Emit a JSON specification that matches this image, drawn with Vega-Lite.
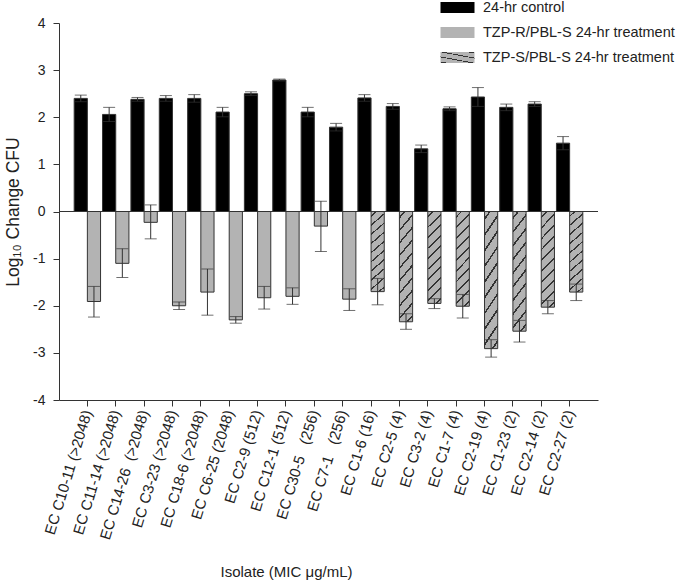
{
  "$schema": "https://vega.github.io/schema/vega-lite/v6.json",
  "width": 539,
  "height": 377,
  "autosize": {"type": "none"},
  "padding": {"left": 59, "top": 23, "right": 82, "bottom": 182},
  "background": "white",
  "config": {
    "view": {"stroke": null},
    "font": "Liberation Sans",
    "axis": {"domainColor": "#333", "tickColor": "#333", "labelColor": "#222", "titleColor": "#222", "grid": false, "titleFontWeight": "normal"},
    "legend": {"labelColor": "#222"}
  },
  "data": {
    "values": [
      {"iso": "EC C10-11 (>2048)", "side": "a", "grp": "24-hr control", "v": 2.40, "lo": 2.33, "hi": 2.47},
      {"iso": "EC C11-14 (>2048)", "side": "a", "grp": "24-hr control", "v": 2.06, "lo": 1.91, "hi": 2.21},
      {"iso": "EC C14-26\u00a0 (>2048)", "side": "a", "grp": "24-hr control", "v": 2.38, "lo": 2.34, "hi": 2.42},
      {"iso": "EC C3-23 (>2048)", "side": "a", "grp": "24-hr control", "v": 2.40, "lo": 2.34, "hi": 2.46},
      {"iso": "EC C18-6 (>2048)", "side": "a", "grp": "24-hr control", "v": 2.40, "lo": 2.32, "hi": 2.48},
      {"iso": "EC C6-25 (2048)", "side": "a", "grp": "24-hr control", "v": 2.11, "lo": 2.01, "hi": 2.21},
      {"iso": "EC C2-9 (512)", "side": "a", "grp": "24-hr control", "v": 2.50, "lo": 2.46, "hi": 2.54},
      {"iso": "EC C12-1 (512)", "side": "a", "grp": "24-hr control", "v": 2.79, "lo": 2.77, "hi": 2.81},
      {"iso": "EC C30-5\u00a0\u00a0 (256)", "side": "a", "grp": "24-hr control", "v": 2.11, "lo": 2.01, "hi": 2.21},
      {"iso": "EC C7-1\u00a0\u00a0 (256)", "side": "a", "grp": "24-hr control", "v": 1.79, "lo": 1.71, "hi": 1.87},
      {"iso": "EC C1-6 (16)", "side": "a", "grp": "24-hr control", "v": 2.41, "lo": 2.34, "hi": 2.48},
      {"iso": "EC C2-5 (4)", "side": "a", "grp": "24-hr control", "v": 2.23, "lo": 2.17, "hi": 2.29},
      {"iso": "EC C3-2 (4)", "side": "a", "grp": "24-hr control", "v": 1.33, "lo": 1.25, "hi": 1.41},
      {"iso": "EC C1-7 (4)", "side": "a", "grp": "24-hr control", "v": 2.18, "lo": 2.14, "hi": 2.22},
      {"iso": "EC C2-19 (4)", "side": "a", "grp": "24-hr control", "v": 2.43, "lo": 2.23, "hi": 2.63},
      {"iso": "EC C1-23 (2)", "side": "a", "grp": "24-hr control", "v": 2.21, "lo": 2.14, "hi": 2.28},
      {"iso": "EC C2-14 (2)", "side": "a", "grp": "24-hr control", "v": 2.28, "lo": 2.23, "hi": 2.33},
      {"iso": "EC C2-27 (2)", "side": "a", "grp": "24-hr control", "v": 1.45, "lo": 1.31, "hi": 1.59},
      {"iso": "EC C10-11 (>2048)", "side": "b", "grp": "TZP-R/PBL-S 24-hr treatment", "v": -1.91, "lo": -2.24, "hi": -1.59},
      {"iso": "EC C11-14 (>2048)", "side": "b", "grp": "TZP-R/PBL-S 24-hr treatment", "v": -1.10, "lo": -1.40, "hi": -0.79},
      {"iso": "EC C14-26\u00a0 (>2048)", "side": "b", "grp": "TZP-R/PBL-S 24-hr treatment", "v": -0.23, "lo": -0.58, "hi": 0.14},
      {"iso": "EC C3-23 (>2048)", "side": "b", "grp": "TZP-R/PBL-S 24-hr treatment", "v": -2.00, "lo": -2.08, "hi": -1.92},
      {"iso": "EC C18-6 (>2048)", "side": "b", "grp": "TZP-R/PBL-S 24-hr treatment", "v": -1.71, "lo": -2.20, "hi": -1.22},
      {"iso": "EC C6-25 (2048)", "side": "b", "grp": "TZP-R/PBL-S 24-hr treatment", "v": -2.30, "lo": -2.37, "hi": -2.23},
      {"iso": "EC C2-9 (512)", "side": "b", "grp": "TZP-R/PBL-S 24-hr treatment", "v": -1.83, "lo": -2.07, "hi": -1.59},
      {"iso": "EC C12-1 (512)", "side": "b", "grp": "TZP-R/PBL-S 24-hr treatment", "v": -1.80, "lo": -1.97, "hi": -1.62},
      {"iso": "EC C30-5\u00a0\u00a0 (256)", "side": "b", "grp": "TZP-R/PBL-S 24-hr treatment", "v": -0.31, "lo": -0.85, "hi": 0.22},
      {"iso": "EC C7-1\u00a0\u00a0 (256)", "side": "b", "grp": "TZP-R/PBL-S 24-hr treatment", "v": -1.86, "lo": -2.10, "hi": -1.64},
      {"iso": "EC C1-6 (16)", "side": "b", "grp": "TZP-S/PBL-S 24-hr treatment", "v": -1.70, "lo": -1.98, "hi": -1.42},
      {"iso": "EC C2-5 (4)", "side": "b", "grp": "TZP-S/PBL-S 24-hr treatment", "v": -2.34, "lo": -2.50, "hi": -2.17},
      {"iso": "EC C3-2 (4)", "side": "b", "grp": "TZP-S/PBL-S 24-hr treatment", "v": -1.95, "lo": -2.06, "hi": -1.85},
      {"iso": "EC C1-7 (4)", "side": "b", "grp": "TZP-S/PBL-S 24-hr treatment", "v": -2.01, "lo": -2.26, "hi": -1.76},
      {"iso": "EC C2-19 (4)", "side": "b", "grp": "TZP-S/PBL-S 24-hr treatment", "v": -2.91, "lo": -3.09, "hi": -2.72},
      {"iso": "EC C1-23 (2)", "side": "b", "grp": "TZP-S/PBL-S 24-hr treatment", "v": -2.54, "lo": -2.77, "hi": -2.31},
      {"iso": "EC C2-14 (2)", "side": "b", "grp": "TZP-S/PBL-S 24-hr treatment", "v": -2.03, "lo": -2.17, "hi": -1.89},
      {"iso": "EC C2-27 (2)", "side": "b", "grp": "TZP-S/PBL-S 24-hr treatment", "v": -1.71, "lo": -1.89, "hi": -1.54}
    ]
  },
  "layer": [
    {
      "mark": {"type": "bar", "stroke": "#333", "strokeWidth": 1},
      "encoding": {
        "x": {"field": "iso", "type": "nominal", "sort": null, "scale": {"paddingInner": 0.07, "paddingOuter": 0.535},
          "axis": {"title": "Isolate (MIC μg/mL)", "titleFontSize": 15, "titleX": 227, "titleY": 176, "titleBaseline": "alphabetic", "titleAlign": "center", "titleAnchor": null,
                   "labelAngle": -73, "labelAlign": "right", "labelBaseline": "middle", "labelFontSize": 15, "tickSize": 6, "labelPadding": 4}},
        "xOffset": {"field": "side", "type": "nominal", "scale": {"domain": ["a", "b"], "paddingInner": 0, "paddingOuter": 0}},
        "y": {"field": "v", "type": "quantitative", "scale": {"domain": [-4, 4], "nice": false},
          "axis": {"title": "Log₁₀ Change CFU", "titleFontSize": 17.5, "titlePadding": 10, "values": [-4, -3, -2, -1, 0, 1, 2, 3, 4], "labelExpr": "'' + datum.value", "labelFontSize": 14, "tickSize": 6, "labelPadding": 8}},
        "fill": {"field": "grp", "type": "nominal",
          "scale": {"domain": ["24-hr control", "TZP-R/PBL-S 24-hr treatment", "TZP-S/PBL-S 24-hr treatment"],
            "range": ["#000000", "#b3b3b3", {"expr": "{gradient: 'linear', x1: 0, y1: 0, x2: 0.16, y2: 1.12, stops: [{offset: 0, color: '#b3b3b3'}, {offset: 0.041, color: '#b3b3b3'}, {offset: 0.041, color: '#333333'}, {offset: 0.059, color: '#333333'}, {offset: 0.059, color: '#b3b3b3'}, {offset: 0.141, color: '#b3b3b3'}, {offset: 0.141, color: '#333333'}, {offset: 0.159, color: '#333333'}, {offset: 0.159, color: '#b3b3b3'}, {offset: 0.241, color: '#b3b3b3'}, {offset: 0.241, color: '#333333'}, {offset: 0.259, color: '#333333'}, {offset: 0.259, color: '#b3b3b3'}, {offset: 0.341, color: '#b3b3b3'}, {offset: 0.341, color: '#333333'}, {offset: 0.359, color: '#333333'}, {offset: 0.359, color: '#b3b3b3'}, {offset: 0.441, color: '#b3b3b3'}, {offset: 0.441, color: '#333333'}, {offset: 0.459, color: '#333333'}, {offset: 0.459, color: '#b3b3b3'}, {offset: 0.541, color: '#b3b3b3'}, {offset: 0.541, color: '#333333'}, {offset: 0.559, color: '#333333'}, {offset: 0.559, color: '#b3b3b3'}, {offset: 0.641, color: '#b3b3b3'}, {offset: 0.641, color: '#333333'}, {offset: 0.659, color: '#333333'}, {offset: 0.659, color: '#b3b3b3'}, {offset: 0.741, color: '#b3b3b3'}, {offset: 0.741, color: '#333333'}, {offset: 0.759, color: '#333333'}, {offset: 0.759, color: '#b3b3b3'}, {offset: 0.841, color: '#b3b3b3'}, {offset: 0.841, color: '#333333'}, {offset: 0.859, color: '#333333'}, {offset: 0.859, color: '#b3b3b3'}, {offset: 0.941, color: '#b3b3b3'}, {offset: 0.941, color: '#333333'}, {offset: 0.959, color: '#333333'}, {offset: 0.959, color: '#b3b3b3'}, {offset: 1, color: '#b3b3b3'}]}"}]},
          "legend": {"title": null, "orient": "none", "legendX": 381, "legendY": -33, "padding": 0,
            "symbolType": "M-1,-0.32H1V0.32H-1Z", "symbolSize": 1156, "symbolStrokeColor": "#333", "symbolStrokeWidth": 1,
            "labelFontSize": 14.5, "labelOffset": 8, "rowPadding": -21, "labelLimit": 300,
            "encode": {"symbols": {"update": {"fill": {"signal": "datum.value === 'TZP-S/PBL-S 24-hr treatment' ? {gradient: 'linear', x1: 0, y1: 0, x2: 1.176, y2: 0.2925, stops: [{offset: 0, color: '#b3b3b3'}, {offset: 0.085, color: '#b3b3b3'}, {offset: 0.085, color: '#333333'}, {offset: 0.115, color: '#333333'}, {offset: 0.115, color: '#b3b3b3'}, {offset: 0.285, color: '#b3b3b3'}, {offset: 0.285, color: '#333333'}, {offset: 0.315, color: '#333333'}, {offset: 0.315, color: '#b3b3b3'}, {offset: 0.485, color: '#b3b3b3'}, {offset: 0.485, color: '#333333'}, {offset: 0.515, color: '#333333'}, {offset: 0.515, color: '#b3b3b3'}, {offset: 0.685, color: '#b3b3b3'}, {offset: 0.685, color: '#333333'}, {offset: 0.715, color: '#333333'}, {offset: 0.715, color: '#b3b3b3'}, {offset: 0.885, color: '#b3b3b3'}, {offset: 0.885, color: '#333333'}, {offset: 0.915, color: '#333333'}, {offset: 0.915, color: '#b3b3b3'}, {offset: 1, color: '#b3b3b3'}]} : datum.value === '24-hr control' ? '#000000' : '#b3b3b3'"}}}}}}
      }
    },
    {
      "mark": {"type": "rule", "color": "#333", "strokeWidth": 1},
      "encoding": {
        "x": {"field": "iso", "type": "nominal", "sort": null},
        "xOffset": {"field": "side", "type": "nominal"},
        "y": {"field": "lo", "type": "quantitative"},
        "y2": {"field": "hi"}
      }
    },
    {
      "mark": {"type": "tick", "color": "#333", "thickness": 1, "size": 12},
      "encoding": {
        "x": {"field": "iso", "type": "nominal", "sort": null},
        "xOffset": {"field": "side", "type": "nominal"},
        "y": {"field": "lo", "type": "quantitative"}
      }
    },
    {
      "mark": {"type": "tick", "color": "#333", "thickness": 1, "size": 12},
      "encoding": {
        "x": {"field": "iso", "type": "nominal", "sort": null},
        "xOffset": {"field": "side", "type": "nominal"},
        "y": {"field": "hi", "type": "quantitative"}
      }
    },
    {
      "data": {"values": [{"z": 0}]},
      "mark": {"type": "rule", "color": "#333", "strokeWidth": 1},
      "encoding": {"y": {"field": "z", "type": "quantitative"}}
    }
  ]
}
